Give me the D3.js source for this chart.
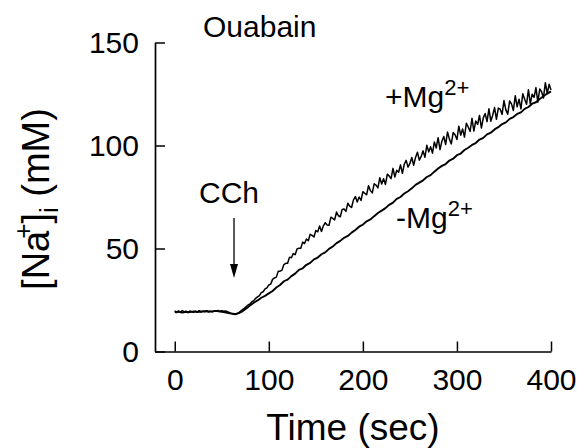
<!DOCTYPE html>
<html>
<head>
<meta charset="utf-8">
<script src="https://cdn.jsdelivr.net/npm/d3@7"></script>
<style>
  html, body { margin: 0; padding: 0; background: #fff; }
  svg { display: block; }
  text { font-family: "Liberation Sans", Arial, Helvetica, sans-serif; fill: #000; }
</style>
</head>
<body>
<svg id="chart" width="579" height="448"></svg>
<script>
// ---------------- data ----------------
const xTicks = [0, 100, 200, 300, 400];
const yTicks = [0, 50, 100, 150];
const xDomain = [-21, 400];
const yDomain = [0, 150];
const cchTime = 63; // time of CCh addition (s)

// +Mg2+ trace : [time (s), [Na+]i (mM)]
const plusMg = [
[0,19.8],[2,18.9],[4,19.6],[6,19.0],[8,19.9],[10,19.2],[12,19.5],[14,18.8],[16,19.7],[18,19.3],
[20,19.0],[22,19.6],[24,19.2],[26,19.8],[28,19.1],[30,19.5],[32,19.3],[34,19.8],[36,19.4],[38,19.6],
[40,19.2],[42,19.7],[44,19.5],[46,19.9],[48,19.6],[50,19.8],[52,19.5],[54,19.7],[56,19.3],[58,19.0],
[60,18.6],[62,18.4],[64,18.2],[66,18.3],[68,18.8],[70,19.6],[72,20.3],[74,21.0],[76,21.8],[78,22.6],
[80,23.1],[82,24.2],[84,24.7],[86,25.8],[88,26.5],[90,27.1],[92,28.6],[94,29.0],[96,30.4],[98,30.9],
[100,32.3],[102,32.7],[104,35.0],[106,35.7],[108,36.1],[110,38.9],[112,39.0],[114,39.5],[116,42.2],[118,42.8],
[120,42.8],[122,45.8],[124,45.5],[126,47.5],[128,47.0],[130,49.8],[132,50.1],[134,50.1],[136,53.1],[138,52.4],
[140,54.6],[142,53.8],[144,56.9],[146,56.4],[148,55.6],[150,58.7],[152,58.1],[154,60.9],[156,58.3],[158,61.0],
[160,62.5],[162,61.4],[164,61.3],[166,65.2],[168,64.6],[170,63.9],[172,67.7],[174,65.9],[176,65.4],[178,69.0],
[180,69.2],[182,68.0],[184,72.0],[186,70.6],[188,69.9],[190,73.6],[192,75.2],[194,72.6],[196,75.0],[198,73.3],
[200,77.6],[202,76.8],[204,76.1],[206,80.5],[208,78.1],[210,77.0],[212,81.4],[214,80.8],[216,79.4],[218,84.4],
[220,81.3],[222,83.9],[224,81.1],[226,86.1],[228,85.2],[230,83.9],[232,88.9],[234,84.7],[236,88.0],[238,87.0],
[240,90.6],[242,86.5],[244,90.9],[246,92.8],[248,89.5],[250,91.3],[252,94.2],[254,90.4],[256,94.2],[258,96.7],
[260,92.9],[262,94.7],[264,97.4],[266,94.3],[268,100.1],[270,96.9],[272,99.4],[274,96.3],[276,101.7],[278,98.8],
[280,103.8],[282,98.0],[284,102.1],[286,104.4],[288,100.5],[290,106.6],[292,103.1],[294,100.8],[296,106.3],[298,105.2],
[300,102.9],[302,109.4],[304,105.0],[306,108.0],[308,104.1],[310,110.8],[312,109.0],[314,106.8],[316,113.2],[318,107.0],
[320,111.9],[322,110.2],[324,114.6],[326,108.5],[328,113.4],[330,115.5],[332,111.6],[334,117.8],[336,111.8],[338,114.7],
[340,118.4],[342,112.7],[344,118.2],[346,117.6],[348,115.1],[350,121.8],[352,117.3],[354,115.2],[356,121.6],[358,120.2],
[360,117.0],[362,124.2],[364,118.8],[366,122.5],[368,117.8],[370,125.1],[372,122.4],[374,120.0],[376,127.1],[378,120.2],
[380,124.9],[382,123.4],[384,128.1],[386,121.1],[388,127.4],[390,126.1],[392,123.1],[394,130.5],[396,125.2],[398,129.7],
[400,127.0]
];

// -Mg2+ trace : [time (s), [Na+]i (mM)]
const minusMg = [
[0,19.0],[4,19.4],[8,18.9],[12,19.3],[16,19.1],[20,19.5],[24,19.2],[28,19.4],[32,19.6],[36,19.3],
[40,19.5],[44,19.7],[48,19.4],[52,19.2],[56,18.8],[60,18.4],[64,18.1],[68,18.6],[72,19.5],[76,20.9],
[80,22.3],[84,23.7],[88,24.8],[92,26.1],[96,27.0],[100,28.2],[104,29.4],[108,31.1],[112,32.3],[116,34.1],
[120,34.9],[124,36.6],[128,37.8],[132,39.6],[136,40.4],[140,42.1],[144,43.0],[148,44.7],[152,45.6],[156,47.2],
[160,48.1],[164,49.8],[168,51.0],[172,52.6],[176,53.7],[180,55.2],[184,56.1],[188,57.7],[192,59.0],[196,60.6],
[200,61.6],[204,63.2],[208,64.1],[212,65.7],[216,67.2],[220,68.4],[224,69.6],[228,71.2],[232,72.3],[236,74.1],
[240,75.0],[244,76.7],[248,77.8],[252,79.2],[256,80.9],[260,82.0],[264,83.1],[268,84.7],[272,85.6],[276,87.3],
[280,88.8],[284,90.1],[288,91.0],[292,92.7],[296,93.6],[300,95.3],[304,96.1],[308,97.8],[312,98.9],[316,100.3],
[320,101.2],[324,102.9],[328,103.7],[332,105.4],[336,106.2],[340,107.8],[344,108.9],[348,110.4],[352,111.2],[356,112.9],
[360,113.8],[364,115.3],[368,116.1],[372,117.8],[376,118.7],[380,120.3],[384,121.0],[388,122.6],[392,123.9],[396,125.2],
[400,126.3]
];

// ---------------- drawing ----------------
const svg = d3.select("#chart");
svg.append("rect").attr("width", 579).attr("height", 448).attr("fill", "#fff");

const x = d3.scaleLinear().domain(xDomain).range([155, 551]);
const y = d3.scaleLinear().domain(yDomain).range([351.5, 42.5]);

// x axis
const xAxis = svg.append("g")
  .attr("transform", `translate(0,${y(0)})`)
  .call(d3.axisBottom(x).tickValues(xTicks).tickFormat(d3.format("d"))
        .tickSizeInner(-10).tickSizeOuter(0).tickPadding(17));
// y axis
const yAxis = svg.append("g")
  .attr("transform", `translate(${x(xDomain[0])},0)`)
  .call(d3.axisLeft(y).tickValues(yTicks).tickFormat(d3.format("d"))
        .tickSizeInner(-10).tickSizeOuter(0).tickPadding(16));

[xAxis, yAxis].forEach(g => {
  g.select(".domain").attr("stroke", "#000").attr("stroke-width", 1.7);
  g.selectAll(".tick line").attr("stroke", "#000").attr("stroke-width", 1.5);
  g.selectAll(".tick text").attr("font-size", 30).attr("fill", "#000")
    .attr("font-family", '"Liberation Sans", Arial, sans-serif');
});

// lines
const line = d3.line().x(d => x(d[0])).y(d => y(d[1]));
svg.append("path").datum(minusMg)
  .attr("fill", "none").attr("stroke", "#000").attr("stroke-width", 1.9)
  .attr("stroke-linejoin", "round").attr("d", line);
svg.append("path").datum(plusMg)
  .attr("fill", "none").attr("stroke", "#000").attr("stroke-width", 1.5)
  .attr("stroke-linejoin", "round").attr("d", line);

// axis titles
svg.append("text")
  .attr("x", (x(xDomain[0]) + x(xDomain[1])) / 2).attr("y", 440)
  .attr("text-anchor", "middle").attr("font-size", 37)
  .text("Time (sec)");

const yt = svg.append("text")
  .attr("transform", `translate(49,${(y(0) + y(150)) / 2 + 2}) rotate(-90)`)
  .attr("text-anchor", "middle").attr("font-size", 38);
yt.append("tspan").text("[Na");
yt.append("tspan").attr("font-size", 26).attr("dx", -8).attr("dy", -17).text("+");
yt.append("tspan").attr("dy", 17).text("]");
yt.append("tspan").attr("font-size", 26).attr("dy", 9).text("i");
yt.append("tspan").attr("dy", -9).text(" (mM)");

// annotations
svg.append("text").attr("x", 203).attr("y", 37).attr("font-size", 30).text("Ouabain");

svg.append("text").attr("x", x(cchTime) - 5).attr("y", 203)
  .attr("text-anchor", "middle").attr("font-size", 30).text("CCh");

// arrow
const ax = x(cchTime);
svg.append("line").attr("x1", ax).attr("x2", ax).attr("y1", 218).attr("y2", 268)
  .attr("stroke", "#000").attr("stroke-width", 1.3);
svg.append("path")
  .attr("d", `M${ax - 4},${264} L${ax + 4},${264} L${ax},${278} Z`)
  .attr("fill", "#000");

function mgLabel(xp, yp, sign) {
  const t = svg.append("text").attr("x", xp).attr("y", yp).attr("font-size", 30);
  t.append("tspan").text(sign + "Mg");
  t.append("tspan").attr("font-size", 22).attr("dy", -12).text("2+");
}
mgLabel(385, 107, "+");
mgLabel(396, 228, "-");
</script>
</body>
</html>
